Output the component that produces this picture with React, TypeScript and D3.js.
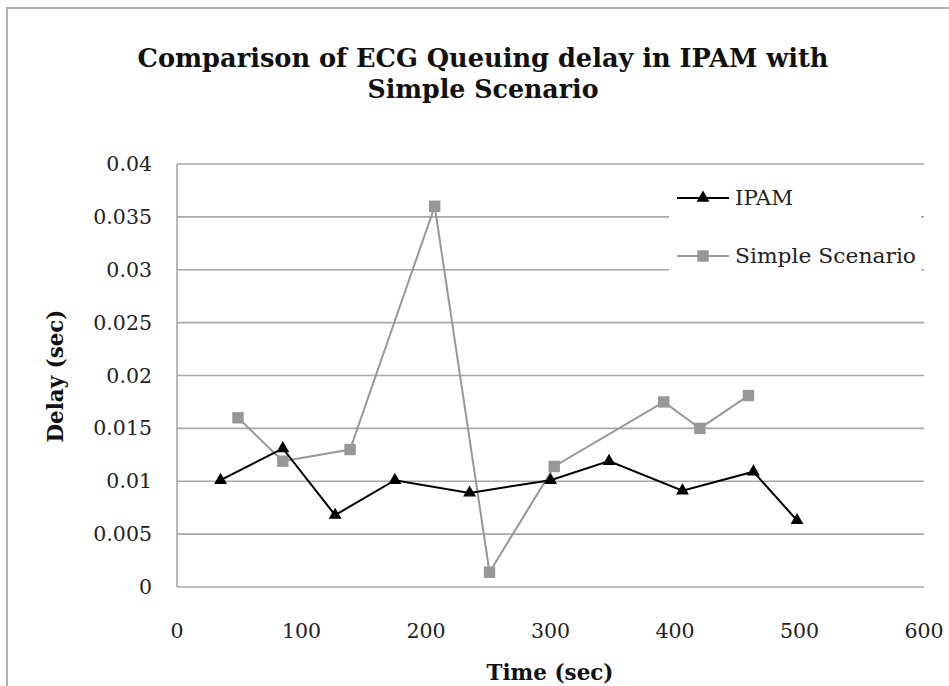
import { useEffect, useRef } from "react";
import * as d3 from "d3";

const ipamTime = [35, 85, 127, 175, 235, 300, 347, 406, 463, 498];
const ipamDelay = [0.0101, 0.0131, 0.0068, 0.0101, 0.0089, 0.0101, 0.0119, 0.0091, 0.0109, 0.0063];

const simpleTime = [49, 85, 139, 207, 251, 303, 391, 420, 459];
const simpleDelay = [0.016, 0.0119, 0.013, 0.036, 0.0014, 0.0114, 0.0175, 0.015, 0.0181];

const xTicks = [0, 100, 200, 300, 400, 500, 600];
const yTicks = [0, 0.005, 0.01, 0.015, 0.02, 0.025, 0.03, 0.035, 0.04];

const seriesNames = ["IPAM", "Simple Scenario"];
const titleLines = ["Comparison of ECG Queuing delay in IPAM with", "Simple Scenario"];

const W = 949;
const H = 686;
const FONT = "'DejaVu Serif', serif";

export default function App() {
  const svgRef = useRef<SVGSVGElement>(null);

  useEffect(() => {
    if (!svgRef.current) return;
    const svg = d3.select(svgRef.current);
    svg.selectAll("*").remove();

    const x = d3.scaleLinear().domain([0, 600]).range([177, 924]);
    const y = d3.scaleLinear().domain([0, 0.04]).range([587, 164]);

    // outer chart border (right/bottom run off the picture)
    svg
      .append("rect")
      .attr("x", 7)
      .attr("y", 8)
      .attr("width", 1000)
      .attr("height", 1000)
      .attr("fill", "#fff")
      .attr("stroke", "#b0b0b0")
      .attr("stroke-width", 2);

    // title
    svg
      .append("g")
      .selectAll("text")
      .data(titleLines)
      .join("text")
      .attr("x", 483)
      .attr("y", (_, i) => 67 + i * 31)
      .attr("text-anchor", "middle")
      .attr("font-family", FONT)
      .attr("font-weight", "bold")
      .attr("font-size", 26)
      .attr("fill", "#111")
      .attr("textLength", (_, i) => (i === 0 ? 691 : 231))
      .attr("lengthAdjust", "spacingAndGlyphs")
      .text((d) => d);

    // gridlines
    svg
      .append("g")
      .attr("stroke", "#a8a8a8")
      .attr("stroke-width", 1.6)
      .selectAll("line")
      .data(yTicks)
      .join("line")
      .attr("x1", x(0))
      .attr("x2", x(600))
      .attr("y1", (d) => y(d))
      .attr("y2", (d) => y(d));

    svg
      .append("line")
      .attr("x1", x(0))
      .attr("x2", x(0))
      .attr("y1", y(0.04))
      .attr("y2", y(0))
      .attr("stroke", "#a8a8a8")
      .attr("stroke-width", 1.6);

    // y tick labels
    svg
      .append("g")
      .selectAll("text")
      .data(yTicks)
      .join("text")
      .attr("x", 152)
      .attr("y", (d) => y(d) + 7)
      .attr("text-anchor", "end")
      .attr("font-family", FONT)
      .attr("font-size", 20.5)
      .attr("fill", "#222")
      .text((d) => String(d));

    // x tick labels
    svg
      .append("g")
      .selectAll("text")
      .data(xTicks)
      .join("text")
      .attr("x", (d) => x(d))
      .attr("y", 638)
      .attr("text-anchor", "middle")
      .attr("font-family", FONT)
      .attr("font-size", 20.5)
      .attr("fill", "#222")
      .text((d) => String(d));

    // axis titles
    svg
      .append("text")
      .attr("x", 550)
      .attr("y", 680)
      .attr("text-anchor", "middle")
      .attr("font-family", FONT)
      .attr("font-weight", "bold")
      .attr("font-size", 23)
      .attr("fill", "#111")
      .attr("textLength", 127)
      .attr("lengthAdjust", "spacingAndGlyphs")
      .text("Time (sec)");

    svg
      .append("text")
      .attr("transform", "translate(63,376) rotate(-90)")
      .attr("text-anchor", "middle")
      .attr("font-family", FONT)
      .attr("font-weight", "bold")
      .attr("font-size", 23)
      .attr("fill", "#111")
      .attr("textLength", 133)
      .attr("lengthAdjust", "spacingAndGlyphs")
      .text("Delay (sec)");

    const line = d3
      .line<[number, number]>()
      .x((d) => x(d[0]))
      .y((d) => y(d[1]));

    const simplePts = simpleTime.map((t, i) => [t, simpleDelay[i]] as [number, number]);
    const ipamPts = ipamTime.map((t, i) => [t, ipamDelay[i]] as [number, number]);

    const gray = "#979797";
    const square = d3.symbol().type(d3.symbolSquare).size(130);
    const tri = d3.symbol().type(d3.symbolTriangle).size(72);

    // Simple Scenario
    svg
      .append("path")
      .attr("d", line(simplePts))
      .attr("fill", "none")
      .attr("stroke", gray)
      .attr("stroke-width", 2);
    svg
      .append("g")
      .selectAll("path")
      .data(simplePts)
      .join("path")
      .attr("transform", (d) => `translate(${x(d[0])},${y(d[1])})`)
      .attr("d", square())
      .attr("fill", gray);

    // IPAM
    svg
      .append("path")
      .attr("d", line(ipamPts))
      .attr("fill", "none")
      .attr("stroke", "#000")
      .attr("stroke-width", 2);
    svg
      .append("g")
      .selectAll("path")
      .data(ipamPts)
      .join("path")
      .attr("transform", (d) => `translate(${x(d[0])},${y(d[1])})`)
      .attr("d", tri())
      .attr("fill", "#000");

    // legend
    const lg = svg.append("g");
    lg.append("rect")
      .attr("x", 669)
      .attr("y", 178)
      .attr("width", 252)
      .attr("height", 112)
      .attr("fill", "#fff");

    const items = lg
      .selectAll("g")
      .data(seriesNames)
      .join("g")
      .attr("transform", (_, i) => `translate(0,${198 + i * 58})`);

    items
      .append("line")
      .attr("x1", 677)
      .attr("x2", 729)
      .attr("stroke", (_, i) => (i === 0 ? "#000" : gray))
      .attr("stroke-width", 2);
    items
      .append("path")
      .attr("transform", "translate(703,0)")
      .attr("d", (_, i) => (i === 0 ? tri() : square()))
      .attr("fill", (_, i) => (i === 0 ? "#000" : gray));
    items
      .append("text")
      .attr("x", 735)
      .attr("y", 7)
      .attr("font-family", FONT)
      .attr("font-size", 20.5)
      .attr("fill", "#222")
      .attr("textLength", (_, i) => (i === 0 ? 58 : 181))
      .attr("lengthAdjust", "spacingAndGlyphs")
      .text((d) => d);
  }, []);

  return (
    <svg
      ref={svgRef}
      width={W}
      height={H}
      viewBox={`0 0 ${W} ${H}`}
      style={{ position: "absolute", left: 0, top: 0, display: "block", background: "#fff" }}
    />
  );
}
